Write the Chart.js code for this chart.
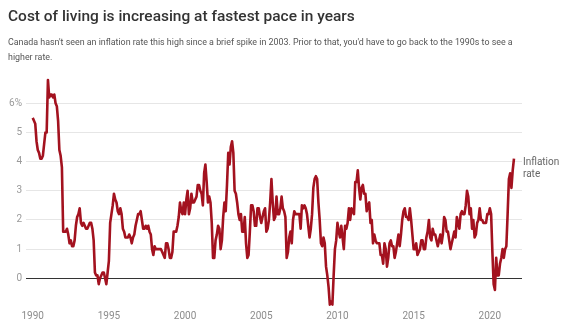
<!DOCTYPE html>
<html>
<head>
<meta charset="utf-8">
<script src="https://cdn.jsdelivr.net/npm/chart.js@4.4.1/dist/chart.umd.min.js"></script>
<style>
  html, body { margin: 0; padding: 0; background: #fff; }
  body { width: 576px; height: 333px; position: relative; overflow: hidden; }
  .t { position: absolute; left: 8px; white-space: nowrap; font-family: Roboto, "Open Sans", sans-serif; }
  #title { top: 5px; font-weight: 500; font-size: 17px; color: #333; line-height: 22px; }
  #sub1 { top: 35px; font-size: 10.5px; color: #555; line-height: 14px; }
  #sub2 { top: 50px; font-size: 10.5px; color: #555; line-height: 14px; }
  #wrap { position: absolute; left: 0; top: 0; width: 576px; height: 333px; }
</style>
</head>
<body>
<div id="wrap"><canvas id="c" width="576" height="333"></canvas></div>
<div id="title" class="t">Cost of living is increasing at fastest pace in years</div>
<div id="sub1" class="t">Canada hasn't seen an inflation rate this high since a brief spike in 2003. Prior to that, you'd have to go back to the 1990s to see a</div>
<div id="sub2" class="t">higher rate.</div>
<script>
// Monthly year-over-year CPI change (%), starting January 1990
const startYear = 1990;
const inflation = [
  // 1990
  5.5, 5.4, 5.3, 4.7, 4.4, 4.3, 4.1, 4.1, 4.2, 4.6, 5.0, 5.0,
  // 1991
  6.8, 6.2, 6.3, 6.3, 6.2, 6.3, 6.0, 5.9, 5.4, 4.4, 4.2, 3.8,
  // 1992
  1.6, 1.6, 1.6, 1.7, 1.5, 1.2, 1.3, 1.1, 1.1, 1.3, 1.8, 2.1,
  // 1993
  2.2, 2.4, 1.9, 1.8, 1.9, 1.8, 1.7, 1.7, 1.8, 1.9, 1.9, 1.7,
  // 1994
  1.3, 0.2, 0.1, 0.1, -0.2, 0.0, 0.1, 0.2, 0.2, 0.0, -0.2, 0.2,
  // 1995
  0.6, 1.9, 2.2, 2.5, 2.9, 2.7, 2.6, 2.3, 2.2, 2.4, 2.2, 1.7,
  // 1996
  1.6, 1.4, 1.4, 1.4, 1.5, 1.4, 1.2, 1.4, 1.5, 1.8, 2.0, 2.2,
  // 1997
  2.2, 2.3, 2.0, 1.7, 1.7, 1.8, 1.7, 1.8, 1.6, 1.5, 1.0, 0.8,
  // 1998
  1.1, 1.0, 1.0, 1.0, 1.0, 1.0, 0.9, 0.8, 0.7, 1.2, 1.2, 1.0,
  // 1999
  0.7, 0.7, 0.9, 1.6, 1.6, 1.6, 1.8, 2.1, 2.6, 2.3, 2.2, 2.6,
  // 2000
  2.2, 2.7, 3.0, 2.2, 2.4, 2.9, 2.6, 2.6, 2.7, 2.8, 3.2, 3.2,
  // 2001
  3.0, 2.9, 2.5, 3.6, 3.9, 3.3, 2.6, 2.8, 2.6, 1.9, 0.7, 0.7,
  // 2002
  1.3, 1.5, 1.8, 1.7, 1.0, 1.3, 2.1, 2.6, 2.3, 3.2, 4.3, 3.9,
  // 2003
  4.5, 4.7, 4.3, 3.0, 2.9, 2.6, 2.2, 2.0, 2.2, 1.6, 1.6, 2.1,
  // 2004
  1.2, 0.7, 0.8, 1.6, 2.5, 2.5, 2.3, 1.8, 1.8, 2.4, 2.4, 2.1,
  // 2005
  1.9, 2.1, 2.3, 2.4, 1.6, 1.7, 2.0, 2.6, 3.4, 2.6, 2.0, 2.1,
  // 2006
  2.8, 2.2, 2.2, 2.4, 2.8, 2.4, 2.3, 2.1, 0.7, 0.9, 1.4, 1.6,
  // 2007
  1.2, 2.0, 2.3, 2.2, 2.2, 2.2, 2.2, 1.7, 2.5, 2.4, 2.5, 2.4,
  // 2008
  2.2, 1.8, 1.4, 1.7, 2.2, 3.1, 3.4, 3.5, 3.4, 2.6, 2.0, 1.2,
  // 2009
  1.1, 1.4, 1.2, 0.4, 0.1, -0.3, -0.9, -0.8, -0.9, 0.1, 1.0, 1.3,
  // 2010
  1.9, 1.6, 1.4, 1.8, 1.4, 1.0, 1.8, 1.7, 1.9, 2.4, 2.0, 2.4,
  // 2011
  2.3, 2.2, 3.3, 3.3, 3.7, 3.1, 2.7, 3.1, 3.2, 2.9, 2.9, 2.3,
  // 2012
  2.5, 2.6, 1.9, 2.0, 1.2, 1.5, 1.3, 1.2, 1.2, 1.2, 0.8, 0.8,
  // 2013
  0.5, 1.2, 1.0, 0.4, 0.7, 1.2, 1.3, 1.1, 1.1, 0.7, 0.9, 1.2,
  // 2014
  1.5, 1.1, 1.5, 2.0, 2.3, 2.4, 2.1, 2.1, 2.0, 2.4, 2.0, 1.5,
  // 2015
  1.0, 1.0, 1.2, 0.8, 0.9, 1.0, 1.3, 1.3, 1.0, 1.0, 1.4, 1.6,
  // 2016
  2.0, 1.4, 1.3, 1.7, 1.5, 1.5, 1.3, 1.1, 1.3, 1.5, 1.2, 1.5,
  // 2017
  2.1, 2.0, 1.6, 1.6, 1.3, 1.0, 1.2, 1.4, 1.6, 1.4, 2.1, 1.9,
  // 2018
  1.7, 2.2, 2.3, 2.2, 2.2, 2.5, 3.0, 2.8, 2.2, 2.4, 1.7, 2.0,
  // 2019
  1.4, 1.5, 1.9, 2.0, 2.4, 2.0, 2.0, 1.9, 1.9, 1.9, 2.2, 2.2,
  // 2020
  2.4, 2.2, 0.9, -0.2, -0.4, 0.7, 0.1, 0.1, 0.5, 0.7, 1.0, 0.7,
  // 2021
  1.0, 1.1, 2.2, 3.4, 3.6, 3.1, 3.7, 4.1
];
const xTickLabels = [1990, 1995, 2000, 2005, 2010, 2015, 2020];
const yTickLabels = [0, 1, 2, 3, 4, 5, 6];
const seriesLabel = ['Inflation', 'rate'];

// fit header text widths to the reference
function fitWidth(id, target) {
  const el = document.getElementById(id);
  const fs = parseFloat(getComputedStyle(el).fontSize);
  const w = el.getBoundingClientRect().width;
  el.style.fontSize = (fs * target / w) + 'px';
}
fitWidth('title', 347);
fitWidth('sub1', 505);
document.getElementById('sub2').style.fontSize = document.getElementById('sub1').style.fontSize;

const points = inflation.map((v, i) => ({ x: startYear + i / 12, y: v }));

const endLabel = {
  id: 'endLabel',
  afterDatasetsDraw(chart) {
    const meta = chart.getDatasetMeta(0);
    const last = meta.data[meta.data.length - 1];
    const ctx = chart.ctx;
    ctx.save();
    ctx.font = '10px Roboto, "Open Sans", sans-serif';
    ctx.fillStyle = '#666';
    ctx.textBaseline = 'middle';
    ctx.textAlign = 'left';
    ctx.fillText(seriesLabel[0], last.x + 9, last.y + 3.5);
    ctx.fillText(seriesLabel[1], last.x + 9, last.y + 16);
    ctx.restore();
  }
};

new Chart(document.getElementById('c'), {
  type: 'line',
  data: {
    datasets: [{
      data: points,
      borderColor: '#a3121f',
      borderWidth: 2.6,
      pointRadius: 0,
      tension: 0,
      borderJoinStyle: 'round',
      fill: false
    }]
  },
  options: {
    responsive: false,
    animation: false,
    events: [],
    layout: { padding: { top: 74.1, right: 54, left: 0, bottom: 0 } },
    plugins: { legend: { display: false }, tooltip: { enabled: false } },
    scales: {
      x: {
        type: 'linear',
        min: 1989.56,
        max: 2022.11,
        afterBuildTicks: s => { s.ticks = xTickLabels.map(v => ({ value: v })); },
        afterFit: s => { s.height = 25.5; },
        grid: { display: false, drawTicks: false },
        border: { display: false },
        ticks: {
          padding: 3,
          color: '#8c8c8c',
          font: { family: 'Roboto, "Open Sans", sans-serif', size: 10 },
          callback: v => String(v),
          maxRotation: 0,
          autoSkip: false
        }
      },
      y: {
        min: -1,
        max: 7,
        afterBuildTicks: s => { s.ticks = yTickLabels.map(v => ({ value: v })); },
        afterFit: s => { s.width = 26; },
        grid: {
          drawTicks: false,
          color: c => (c.tick && c.tick.value === 0) ? '#333' : '#e6e6e6',
          lineWidth: 1
        },
        border: { display: false },
        ticks: {
          padding: 4,
          color: '#9a9a9a',
          font: { family: 'Roboto, "Open Sans", sans-serif', size: 10 },
          callback: v => v === 6 ? '6%' : String(v),
          autoSkip: false
        }
      }
    }
  },
  plugins: [endLabel]
});
</script>
</body>
</html>
